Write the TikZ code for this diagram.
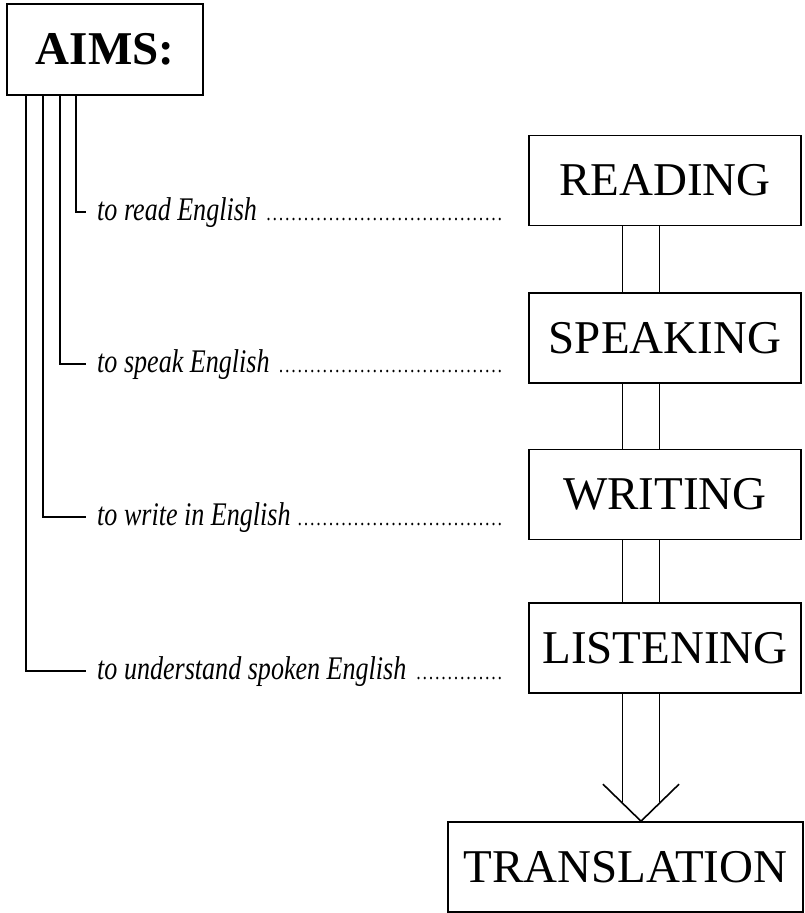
\documentclass[tikz,border=0pt]{standalone}
\usepackage{fontspec}
\setmainfont{Liberation Serif}
\newfontfamily\aimfont[FakeStretch=0.79]{Liberation Serif}
\usetikzlibrary{calc}

% dotted leader up to a fixed right edge
\newcommand{\leaderdots}{{\fontsize{22}{22}\selectfont\leaders\hbox to 6.25pt{\hss.\hss}\hfill}}
\newcommand{\aimline}[1]{\hbox to 411pt{#1\ \leaderdots}}

\begin{document}
\begin{tikzpicture}[
  x=1pt, y=-1pt,
  every node/.style={font=\fontsize{47}{50}\selectfont},
  box/.style={draw=black, line width=1.6pt, inner sep=0pt, minimum height=90pt, align=center},
  stage/.style={box, minimum width=272pt},
  title/.style={box, font=\fontsize{47}{50}\selectfont\bfseries, minimum width=196pt, minimum height=91pt},
  aim/.style={font=\aimfont\itshape\fontsize{33}{35}\selectfont, inner sep=0pt, anchor=base west},
  stem/.style={line width=1.4pt, shorten >=11pt},
  rail/.style={line width=1.4pt, double distance=35.6pt},
  vhead/.style={line width=1.6pt, line join=round}
]
\useasboundingbox (0,0) rectangle (805,913);

% Top left: aims
\node[title] (aims) at (105,49.5) {AIMS:};

% Aims, one per line
\node[aim] (lread)  at (97,220) {\aimline{to read English}};
\node[aim] (lspeak) at (97,372) {\aimline{to speak English}};
\node[aim] (lwrite) at (97,525) {\aimline{to write in English}};
\node[aim] (lunder) at (97,679) {\aimline{to understand spoken English}};

% Right column: skills
\node[stage] (reading)   at (665,180.5) {READING};
\node[stage] (speaking)  at (665,338)   {SPEAKING};
\node[stage] (writing)   at (665,494.5) {WRITING};
\node[stage] (listening) at (665,648)   {LISTENING};
\node[box, minimum width=355pt] (translation) at (625.5,867) {TRANSLATION};

% Stems: aims -> each line
\draw[stem] ([xshift=-29pt]aims.south) |- (lread.west);
\draw[stem] ([xshift=-45pt]aims.south) |- (lspeak.west);
\draw[stem] ([xshift=-62pt]aims.south) |- (lwrite.west);
\draw[stem] ([xshift=-79pt]aims.south) |- (lunder.west);

% Double rails between the skills
\draw[rail] ([xshift=-24pt]reading.south)  -- ([xshift=-24pt]speaking.north);
\draw[rail] ([xshift=-24pt]speaking.south) -- ([xshift=-24pt]writing.north);
\draw[rail] ([xshift=-24pt]writing.south)  -- ([xshift=-24pt]listening.north);

% Open arrow down to translation
\coordinate (tip) at ($(listening.south |- translation.north)+(-24,0)$);
\draw[rail] ([xshift=-24pt]listening.south) -- ([yshift=19pt]tip);
\draw[vhead] ($(tip)+(-38,-37)$) -- (tip) -- ($(tip)+(38,-37)$);

\end{tikzpicture}
\end{document}
